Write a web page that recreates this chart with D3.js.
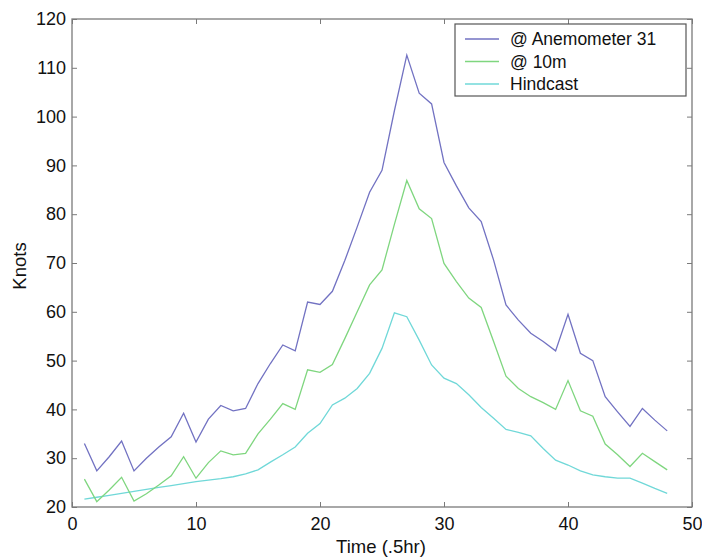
<!DOCTYPE html>
<html>
<head>
<meta charset="utf-8">
<script src="https://cdnjs.cloudflare.com/ajax/libs/d3/7.8.5/d3.min.js"></script>
<style>
  body { margin: 0; background: #fff; }
  svg text { font-family: "Liberation Sans", Arial, sans-serif; fill: #111; }
</style>
</head>
<body>
<svg id="chart" width="702" height="557"></svg>
<script>
// time steps (.5 hr)
var time = [1,2,3,4,5,6,7,8,9,10,11,12,13,14,15,16,17,18,19,20,21,22,23,24,
            25,26,27,28,29,30,31,32,33,34,35,36,37,38,39,40,41,42,43,44,45,46,47,48];

var anemometer = [33, 27.4, 30.3, 33.5, 27.4, 30, 32.3, 34.4, 39.2, 33.3, 38, 40.8,
                  39.7, 40.2, 45.3, 49.4, 53.2, 52, 62, 61.5, 64.2, 70.5, 77.4, 84.5,
                  89, 101.2, 112.6, 104.8, 102.6, 90.6, 85.8, 81.3, 78.5, 70.6, 61.4, 58.3,
                  55.6, 53.9, 52, 59.5, 51.5, 50, 42.6, 39.5, 36.5, 40.2, 37.8, 35.6];

var tenMeter = [25.7, 21.1, 23.5, 26.1, 21.2, 22.7, 24.5, 26.4, 30.3, 25.9, 29.1, 31.5,
                30.7, 31, 35, 38, 41.2, 40, 48.1, 47.6, 49.2, 54.5, 60, 65.5,
                68.6, 77.9, 86.9, 81.1, 79.1, 69.9, 66.2, 62.8, 60.9, 53.9, 46.8, 44.3,
                42.6, 41.4, 40, 45.9, 39.7, 38.6, 32.9, 30.7, 28.3, 31, 29.3, 27.6];

var hindcast = [21.6, 22, 22.4, 22.8, 23.2, 23.6, 24, 24.4, 24.8, 25.2, 25.5, 25.8,
                26.2, 26.8, 27.6, 29.2, 30.7, 32.3, 35.1, 37.1, 40.9, 42.3, 44.3, 47.4,
                52.5, 59.8, 59, 54.2, 49.1, 46.4, 45.3, 43, 40.4, 38.2, 35.9, 35.3,
                34.6, 32, 29.6, 28.6, 27.4, 26.6, 26.2, 25.9, 25.9, 24.9, 23.8, 22.8];

var seriesNames = ['@ Anemometer 31', '@ 10m', 'Hindcast'];
var seriesColors = ['#7272c2', '#7fd67f', '#70d8d8'];
var xTicks = [0, 10, 20, 30, 40, 50];
var yTicks = [20, 30, 40, 50, 60, 70, 80, 90, 100, 110, 120];

var series = [anemometer, tenMeter, hindcast];

var margin = {top: 19, right: 10, bottom: 50, left: 72};
var svg = d3.select('#chart');
var W = +svg.attr('width'), H = +svg.attr('height');
var w = W - margin.left - margin.right,
    h = H - margin.top - margin.bottom;

var g = svg.append('g').attr('transform', 'translate(' + margin.left + ',' + margin.top + ')');

var x = d3.scaleLinear().domain([0, 50]).range([0, w]);
var y = d3.scaleLinear().domain([20, 120]).range([h, 0]);

var axisColor = '#7a7a7a';

// lines
var line = d3.line()
    .x(function(d, i){ return x(time[i]); })
    .y(function(d){ return y(d); });

// draw hindcast first so the others sit on top
[2, 1, 0].forEach(function(k){
    g.append('path')
        .datum(series[k])
        .attr('d', line)
        .attr('fill', 'none')
        .attr('stroke', seriesColors[k])
        .attr('stroke-width', 1.3);
});

// axes (MATLAB style: ticks inside, box all round)
function styleAxis(sel){
    sel.select('.domain').remove();
    sel.selectAll('.tick line').attr('stroke', axisColor);
    sel.selectAll('.tick text').style('font-size', '18px').attr('fill', '#111');
}

g.append('g')
    .attr('transform', 'translate(0,' + h + ')')
    .call(d3.axisBottom(x).tickValues(xTicks).tickSizeInner(-5).tickSizeOuter(0).tickPadding(10))
    .call(styleAxis);

g.append('g')
    .call(d3.axisTop(x).tickValues(xTicks).tickSizeInner(-5).tickSizeOuter(0).tickFormat(''))
    .call(styleAxis);

g.append('g')
    .call(d3.axisLeft(y).tickValues(yTicks).tickSizeInner(-5).tickSizeOuter(0).tickPadding(6))
    .call(styleAxis);

g.append('g')
    .attr('transform', 'translate(' + w + ',0)')
    .call(d3.axisRight(y).tickValues(yTicks).tickSizeInner(-5).tickSizeOuter(0).tickFormat(''))
    .call(styleAxis);

g.append('rect')
    .attr('width', w).attr('height', h)
    .attr('fill', 'none')
    .attr('stroke', axisColor)
    .attr('stroke-width', 1.3);

// axis titles
svg.append('text')
    .attr('x', margin.left + x(25) - 1)
    .attr('y', 553)
    .attr('text-anchor', 'middle')
    .style('font-size', '18.5px')
    .text('Time (.5hr)');

svg.append('text')
    .attr('transform', 'translate(26,266) rotate(-90)')
    .attr('text-anchor', 'middle')
    .style('font-size', '18.5px')
    .text('Knots');

// legend
var leg = svg.append('g').attr('transform', 'translate(455,24)');
leg.append('rect')
    .attr('width', 231).attr('height', 72)
    .attr('fill', '#fff')
    .attr('stroke', '#555')
    .attr('stroke-width', 1.2);

var rows = leg.selectAll('g.row')
    .data(seriesNames)
    .enter().append('g')
    .attr('class', 'row')
    .attr('transform', function(d, i){ return 'translate(0,' + (15 + i * 22.5) + ')'; });

rows.append('line')
    .attr('x1', 10).attr('x2', 44)
    .attr('stroke', function(d, i){ return seriesColors[i]; })
    .attr('stroke-width', 1.3);

rows.append('text')
    .attr('x', 55)
    .attr('dy', '0.35em')
    .style('font-size', '17.5px')
    .text(function(d){ return d; });
</script>
</body>
</html>
